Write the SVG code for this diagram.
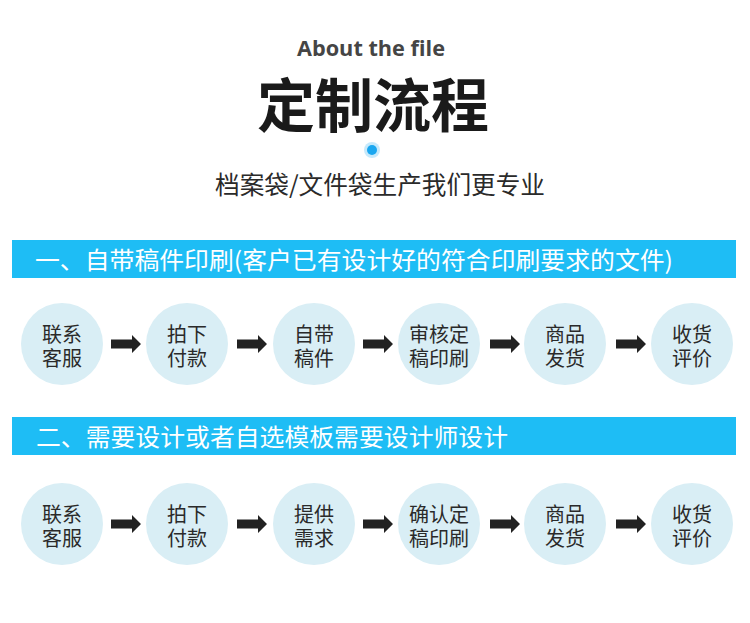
<svg xmlns="http://www.w3.org/2000/svg" width="750" height="623" viewBox="0 0 750 623">
<style>
.cjk{font-family:"Noto Sans CJK SC","Noto Sans",sans-serif}
.c{fill:#d9eef5}
.t{font-family:"Noto Sans CJK SC","Noto Sans",sans-serif;font-size:20px;fill:#2a2a2a;text-anchor:middle}
.bn{fill:#1ebdf5}
.bt{font-family:"Noto Sans CJK SC","Noto Sans",sans-serif;font-size:24px;fill:#ffffff}
.ar{fill:#222222}
</style>
<defs>
<path id="arw" d="M0,-4.5 H21 V-9 L30,0 L21,9 V4.5 H0 Z"/>
</defs>
<rect width="750" height="623" fill="#ffffff"/>
<g id="header">
<text x="297" y="56" textLength="148" lengthAdjust="spacingAndGlyphs" font-family="'Open Sans','Liberation Sans',sans-serif" font-weight="bold" font-size="21.5" fill="#454545">About the file</text>
<text x="373" y="127" text-anchor="middle" class="cjk" font-weight="bold" font-size="58" fill="#1a1a1a">定制流程</text>
<circle cx="372" cy="150" r="8" fill="#1aa7f0" opacity="0.25"/>
<circle cx="372" cy="150" r="5" fill="#1aa7f0"/>
<text x="215" y="194" textLength="330" lengthAdjust="spacingAndGlyphs" class="cjk" font-size="24.5" fill="#2a2a2a">档案袋/文件袋生产我们更专业</text>
</g>
<g id="banner1">
<rect class="bn" x="12" y="240" width="724" height="38"/>
<text class="bt" x="35" y="269" textLength="638" lengthAdjust="spacingAndGlyphs">一、自带稿件印刷(客户已有设计好的符合印刷要求的文件)</text>
</g>
<g id="banner2">
<rect class="bn" x="12" y="417" width="724" height="38"/>
<text class="bt" x="36" y="446" textLength="472" lengthAdjust="spacingAndGlyphs">二、需要设计或者自选模板需要设计师设计</text>
</g>
<g id="r1n1"><circle class="c" cx="62" cy="344" r="41"/><text class="t"><tspan x="62" y="342">联系</tspan><tspan x="62" y="366">客服</tspan></text></g>
<g id="r1n2"><circle class="c" cx="187" cy="344" r="41"/><text class="t"><tspan x="187" y="342">拍下</tspan><tspan x="187" y="366">付款</tspan></text></g>
<g id="r1n3"><circle class="c" cx="314" cy="344" r="41"/><text class="t"><tspan x="314" y="342">自带</tspan><tspan x="314" y="366">稿件</tspan></text></g>
<g id="r1n4"><circle class="c" cx="439" cy="344" r="41"/><text class="t"><tspan x="439" y="342">审核定</tspan><tspan x="439" y="366">稿印刷</tspan></text></g>
<g id="r1n5"><circle class="c" cx="565" cy="344" r="41"/><text class="t"><tspan x="565" y="342">商品</tspan><tspan x="565" y="366">发货</tspan></text></g>
<g id="r1n6"><circle class="c" cx="692" cy="344" r="41"/><text class="t"><tspan x="692" y="342">收货</tspan><tspan x="692" y="366">评价</tspan></text></g>
<g id="r2n1"><circle class="c" cx="62" cy="524" r="41"/><text class="t"><tspan x="62" y="522">联系</tspan><tspan x="62" y="546">客服</tspan></text></g>
<g id="r2n2"><circle class="c" cx="187" cy="524" r="41"/><text class="t"><tspan x="187" y="522">拍下</tspan><tspan x="187" y="546">付款</tspan></text></g>
<g id="r2n3"><circle class="c" cx="314" cy="524" r="41"/><text class="t"><tspan x="314" y="522">提供</tspan><tspan x="314" y="546">需求</tspan></text></g>
<g id="r2n4"><circle class="c" cx="439" cy="524" r="41"/><text class="t"><tspan x="439" y="522">确认定</tspan><tspan x="439" y="546">稿印刷</tspan></text></g>
<g id="r2n5"><circle class="c" cx="565" cy="524" r="41"/><text class="t"><tspan x="565" y="522">商品</tspan><tspan x="565" y="546">发货</tspan></text></g>
<g id="r2n6"><circle class="c" cx="692" cy="524" r="41"/><text class="t"><tspan x="692" y="522">收货</tspan><tspan x="692" y="546">评价</tspan></text></g>
<g id="connectors" class="ar">
<use href="#arw" x="111" y="344"/>
<use href="#arw" x="237" y="344"/>
<use href="#arw" x="363" y="344"/>
<use href="#arw" x="490" y="344"/>
<use href="#arw" x="616" y="344"/>
<use href="#arw" x="111" y="524"/>
<use href="#arw" x="237" y="524"/>
<use href="#arw" x="363" y="524"/>
<use href="#arw" x="490" y="524"/>
<use href="#arw" x="616" y="524"/>
</g>
</svg>
